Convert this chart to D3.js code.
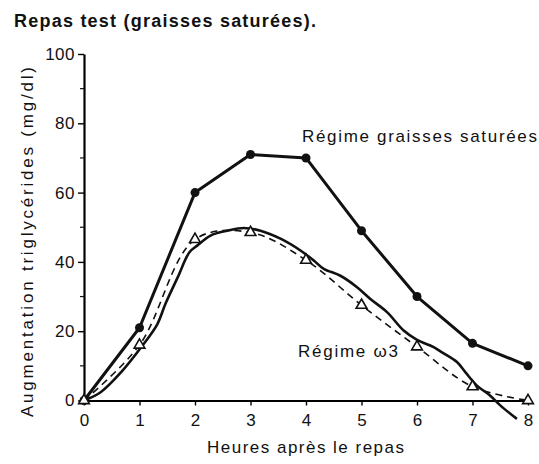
<!DOCTYPE html>
<html>
<head>
<meta charset="utf-8">
<script src="https://cdn.jsdelivr.net/npm/d3@7"></script>
<style>
  body { margin: 0; background: #fff; }
  text { font-family: "Liberation Sans", Arial, sans-serif; fill: #111; }
</style>
</head>
<body>
<div id="chart"></div>
<script>
var width = 539;
var height = 464;

// heures après le repas
var heures = [0, 1, 2, 3, 4, 5, 6, 7, 8];
// régime graisses saturées (points pleins)
var satures = [0, 21, 60, 71, 70, 49, 30, 16.5, 10];
// régime oméga 3 (triangles, courbe en tirets)
var omega3 = [0, 16, 46.5, 48.5, 40.5, 27.5, 15.5, 4, 0];
// courbe continue tracée à main levée pour le régime oméga 3
var omega3Trace = [
  [0, 0], [0.3, 2.4], [0.67, 8.2], [1.05, 15.8], [1.32, 22], [1.47, 28],
  [1.69, 35.6], [1.9, 42.8], [2.04, 44.7], [2.28, 47.6], [2.58, 49],
  [2.88, 49.8], [3.18, 49], [3.54, 46.7], [3.9, 43.3], [4.14, 40.4],
  [4.32, 38], [4.62, 36], [4.92, 32.7], [5.16, 29.3], [5.46, 25.5],
  [5.76, 20.2], [6.0, 17.5], [6.3, 15.4], [6.45, 13.9], [6.72, 11.1],
  [6.87, 8.2], [7.08, 4.3], [7.32, 1.4], [7.5, -1.4], [7.8, -5.3]
];
var yTicks = [0, 20, 40, 60, 80, 100];
var yMinorTicks = [10, 30, 50, 70, 90];

var svg = d3.select("#chart")
    .append("svg")
    .attr("width", width)
    .attr("height", height);

var xScale = d3.scaleLinear().domain([0, 8]).range([84, 528]);
var yScale = d3.scaleLinear().domain([0, 100]).range([400.5, 54]);

// titre
svg.append("text")
    .attr("x", 14)
    .attr("y", 27)
    .attr("textLength", 302)
    .attr("lengthAdjust", "spacing")
    .style("font-size", "18px")
    .style("font-weight", "bold")
    .text("Repas test (graisses saturées).");

// axe Y
var yAxis = svg.append("g")
    .attr("transform", "translate(" + xScale(0) + ",0)")
    .call(d3.axisLeft(yScale).tickValues(yTicks).tickSize(6).tickPadding(3).tickSizeOuter(0));
yAxis.select(".domain").attr("stroke-width", 2.2);
yAxis.selectAll(".tick line").attr("stroke-width", 1.4);
yAxis.selectAll(".tick text")
    .style("font-size", "17px")
    .style("font-family", "'Liberation Sans', Arial, sans-serif")
    .style("letter-spacing", "0.5px");

svg.append("g").selectAll(".minor")
    .data(yMinorTicks)
    .enter().append("line")
    .attr("class", "minor")
    .attr("x1", xScale(0) - 4)
    .attr("x2", xScale(0))
    .attr("y1", function(d) { return yScale(d); })
    .attr("y2", function(d) { return yScale(d); })
    .attr("stroke", "#111")
    .attr("stroke-width", 1.2);

// axe X
var xAxis = svg.append("g")
    .attr("transform", "translate(0," + yScale(0) + ")")
    .call(d3.axisBottom(xScale).tickValues(heures).tickSize(5).tickPadding(8).tickSizeOuter(0));
xAxis.select(".domain").attr("stroke-width", 1.8);
xAxis.selectAll(".tick line").attr("stroke-width", 1.4);
xAxis.selectAll(".tick text")
    .style("font-size", "17px")
    .style("font-family", "'Liberation Sans', Arial, sans-serif");

// titres des axes
svg.append("text")
    .attr("x", 207)
    .attr("y", 453)
    .attr("textLength", 197)
    .attr("lengthAdjust", "spacing")
    .style("font-size", "17px")
    .text("Heures après le repas");

svg.append("text")
    .attr("transform", "translate(33,417) rotate(-90)")
    .attr("textLength", 350)
    .attr("lengthAdjust", "spacing")
    .style("font-size", "17px")
    .text("Augmentation triglycérides (mg/dl)");

// courbes
var line = d3.line()
    .x(function(d, i) { return xScale(heures[i]); })
    .y(function(d) { return yScale(d); });

var smooth = d3.line()
    .x(function(d, i) { return xScale(heures[i]); })
    .y(function(d) { return yScale(d); })
    .curve(d3.curveCatmullRom.alpha(0.5));

var trace = d3.line()
    .x(function(d) { return xScale(d[0]); })
    .y(function(d) { return yScale(d[1]); })
    .curve(d3.curveCatmullRom.alpha(0.5));

svg.append("path")
    .datum(omega3)
    .attr("d", smooth)
    .attr("fill", "none")
    .attr("stroke", "#111")
    .attr("stroke-width", 1.6)
    .attr("stroke-dasharray", "7,5");

svg.append("path")
    .datum(omega3Trace)
    .attr("d", trace)
    .attr("fill", "none")
    .attr("stroke", "#111")
    .attr("stroke-width", 2.6)
    .attr("stroke-linejoin", "round");

svg.append("path")
    .datum(satures)
    .attr("d", line)
    .attr("fill", "none")
    .attr("stroke", "#111")
    .attr("stroke-width", 3)
    .attr("stroke-linejoin", "round");

svg.selectAll(".dot")
    .data(satures)
    .enter().append("circle")
    .attr("class", "dot")
    .attr("cx", function(d, i) { return xScale(heures[i]); })
    .attr("cy", function(d) { return yScale(d); })
    .attr("r", 4.5)
    .attr("fill", "#111");

var tri = d3.symbol().type(d3.symbolTriangle).size(50);
svg.selectAll(".tri")
    .data(omega3)
    .enter().append("path")
    .attr("class", "tri")
    .attr("d", tri)
    .attr("transform", function(d, i) { return "translate(" + xScale(heures[i]) + "," + yScale(d) + ")"; })
    .attr("fill", "#fff")
    .attr("stroke", "#111")
    .attr("stroke-width", 1.6);

// étiquettes des séries
svg.append("text")
    .attr("x", 302)
    .attr("y", 142)
    .attr("textLength", 235)
    .attr("lengthAdjust", "spacing")
    .style("font-size", "17px")
    .text("Régime graisses saturées");

svg.append("text")
    .attr("x", 298)
    .attr("y", 357)
    .attr("textLength", 100)
    .attr("lengthAdjust", "spacing")
    .style("font-size", "17px")
    .text("Régime ω3");
</script>
</body>
</html>
